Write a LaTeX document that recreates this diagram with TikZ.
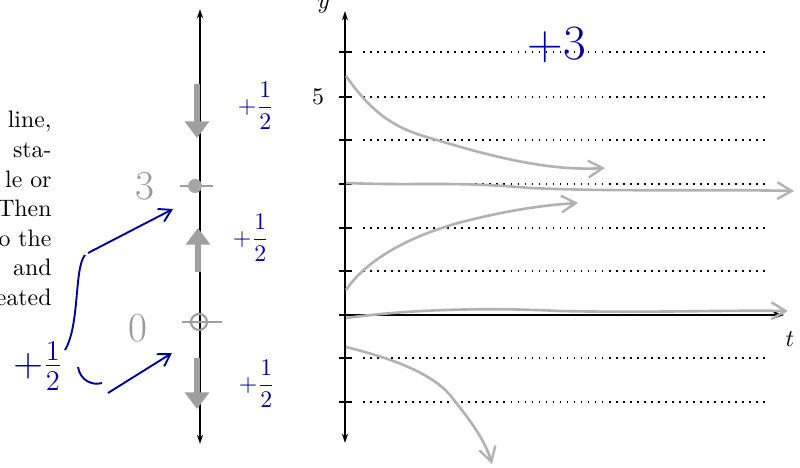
\documentclass[tikz,border=0pt]{standalone}
\usetikzlibrary{arrows.meta}
\begin{document}
\begin{tikzpicture}[x=0.42pt,y=-0.42pt,
  axisline/.style={line width=0.5pt,{Stealth[length=4pt,width=2.6pt]}-{Stealth[length=4pt,width=2.6pt]}},
  taxis/.style={line width=1pt,-{Stealth[length=5pt,width=3.5pt]}},
  tickmark/.style={line width=1pt},
  gridline/.style={line width=0.7pt,dash pattern=on 0.7pt off 2.25pt},
  solcurve/.style={gray!60,line width=1.1pt,-{Straight Barb[length=6pt,width=7pt,line width=1pt]}},
  phasearrow/.style={gray!75,line width=2.8pt,-{Triangle[length=7pt,width=10pt]}},
  handgray/.style={text=gray!80,font=\LARGE},
  handblue/.style={text=blue!60!black,font=\normalsize},
  bluearrow/.style={blue!60!black,line width=0.8pt,-{Straight Barb[length=5pt,width=6pt]}},
  bluestroke/.style={blue!60!black,line width=0.8pt},
  paratext/.style={anchor=east,inner sep=0pt}
]
\useasboundingbox (0,0) rectangle (800,468);

% --- cut-off paragraph on the left ---
\node[paratext] (p1) at (52,122) {line,};
\node[paratext] (p2) at (52,150) {sta-};
\node[paratext] (p3) at (52,179) {le or};
\node[paratext] (p4) at (52,208) {Then};
\node[paratext] (p5) at (52,238) {o the};
\node[paratext] (p6) at (52,267) {and};
\node[paratext] (p7) at (52,297) {eated};

% --- phase line ---
\coordinate (ltop) at (200,9);
\coordinate (lbot) at (200,444);
\draw[axisline] (lbot) -- (ltop);

% equilibrium 3 (filled) and 0 (open)
\coordinate (eq3) at (195,186);
\coordinate (eq0) at (199,322);
\draw[gray!75,line width=0.8pt] (180,186) -- (213,186);
\fill[gray!70] (eq3) circle[radius=7];
\draw[gray!75,line width=0.8pt] (182,322) -- (222,322);
\draw[gray!75,line width=0.9pt] (eq0) circle[radius=8];

% gray direction arrows
\coordinate (a1s) at (197,84);  \coordinate (a1e) at (197,138);
\coordinate (a2s) at (198,272); \coordinate (a2e) at (198,228);
\coordinate (a3s) at (197,358); \coordinate (a3e) at (197,409);
\draw[phasearrow] (a1s) -- (a1e);
\draw[phasearrow] (a2s) -- (a2e);
\draw[phasearrow] (a3s) -- (a3e);

% handwritten labels near phase line
\node[handgray] (l3) at (145,186) {3};
\node[handgray] (l0) at (138,328) {0};
\node[handblue] (h1) at (256,106) {$\displaystyle +\frac{1}{2}$};
\node[handblue] (h2) at (251,238) {$\displaystyle +\frac{1}{2}$};
\node[handblue] (h3) at (257,384) {$\displaystyle +\frac{1}{2}$};
\node[handblue,font=\LARGE] (hb) at (38,366) {$+\frac{1}{2}$};

% blue pointing arrows
\coordinate (b1a) at (65,350);
\coordinate (b1b) at (85,255);
\coordinate (b1c) at (173,209);
\draw[bluestroke] (b1a) .. controls (80,325) and (74,268) .. (b1b);
\draw[bluearrow] (88,253) -- (b1c);
\coordinate (b2a) at (78,367);
\coordinate (b2b) at (102,383);
\coordinate (b2c) at (108,393);
\coordinate (b2d) at (172,353);
\draw[bluestroke] (b2a) .. controls (80,380) and (92,386) .. (b2b);
\draw[bluearrow] (b2c) -- (b2d);

% --- right plot ---
\coordinate (yb) at (345,443);
\coordinate (yt) at (345,11);
\draw[axisline] (yb) -- (yt);
\node (ylab) at (324,6) {$y$};
\node (five) at (318,97) {5};

\foreach \yy in {52,97,140,184,228,271,358,402} {
  \draw[tickmark] (339,\yy) -- (352,\yy);
  \draw[gridline] (363,\yy) -- (767,\yy);
}
\draw[tickmark] (339,315) -- (352,315);

\coordinate (to) at (345,315);
\coordinate (te) at (784,315);
\draw[taxis] (to) -- (te);
\node (tlab) at (790,339) {$t$};

% solution curves (gray)
\draw[solcurve] (346,76) .. controls (370,110) and (390,125) .. (420,135)
   .. controls (470,150) and (540,172) .. (605,168);
\draw[solcurve] (346,183) .. controls (420,186) and (450,181) .. (530,188)
   .. controls (620,192) and (700,189) .. (794,191);
\draw[solcurve] (346,290) .. controls (370,255) and (420,232) .. (470,220)
   .. controls (510,210) and (545,205) .. (578,203);
\draw[solcurve] (346,318) .. controls (420,308) and (500,308) .. (560,311)
   .. controls (650,313) and (720,310) .. (788,311);
\draw[solcurve] (346,347) .. controls (390,358) and (430,372) .. (450,395)
   .. controls (470,420) and (485,440) .. (492,464);

% +3
\node[handblue,font=\huge] (p3lab) at (557,45) {$+3$};
\end{tikzpicture}
\end{document}
